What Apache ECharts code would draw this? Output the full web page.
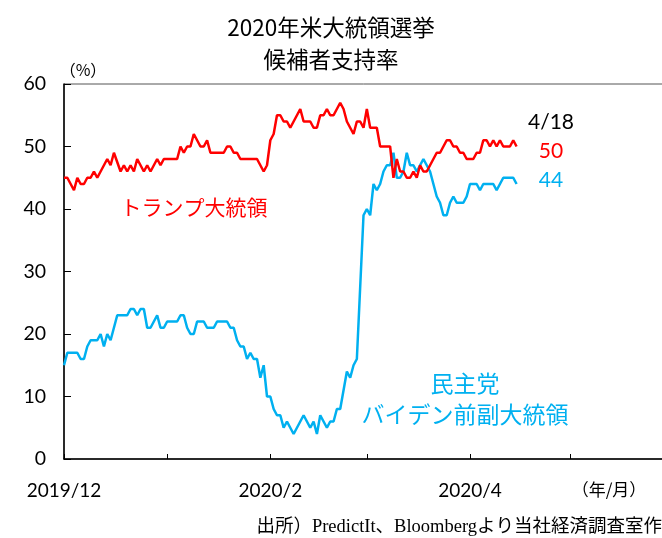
<!DOCTYPE html>
<html>
<head>
<meta charset="utf-8">
<script src="https://cdn.jsdelivr.net/npm/echarts@6/dist/echarts.min.js"></script>
<style>
  html, body { margin: 0; padding: 0; background: #fff; }
  #chart { width: 662px; height: 538px; }
</style>
</head>
<body>
<div id="chart"></div>
<script>
// 日付は 2019/12/1 からの経過日数
const START = [2019, 11, 1];
const trumpDay = [0, 1, 3, 4, 5, 6, 7, 8, 9, 10, 13, 14, 15, 17, 18, 19, 20, 21, 22, 24, 25, 26, 28, 29, 30,
  34, 35, 36, 37, 38, 39, 41, 42, 43, 44, 48, 49, 50, 51, 52, 53, 58, 60, 61, 62, 63, 64, 65, 66, 67, 68,
  71, 72, 74, 75, 76, 77, 78, 79, 80, 81, 83, 84, 85, 86, 87, 88, 89, 90, 91, 92, 94, 95, 98, 99, 100,
  101, 102, 103, 104, 105, 106, 107, 108, 109, 110, 111, 112, 113, 115, 116, 117, 118, 119, 120, 121,
  123, 124, 125, 126, 127, 128, 129, 130, 131, 132, 133, 134, 135, 136];
const trumpVal = [45, 45, 43, 45, 44, 44, 45, 45, 46, 45, 48, 47, 49, 46, 47, 46, 47, 46, 48, 46, 47, 46, 48, 47, 48,
  48, 50, 49, 50, 50, 52, 50, 50, 51, 49, 49, 50, 50, 49, 49, 48, 48, 46, 47, 51, 52, 55, 55, 54, 54, 53,
  56, 54, 54, 53, 53, 55, 55, 56, 55, 55, 57, 56, 54, 53, 52, 54, 54, 53, 56, 53, 53, 50, 50, 45, 48,
  46, 46, 45, 45, 46, 45, 47, 46, 46, 47, 48, 49, 49, 51, 51, 50, 50, 49, 49, 48,
  48, 49, 49, 51, 51, 50, 51, 50, 51, 50, 50, 50, 51, 50];

const bidenDay = [0, 1, 4, 5, 6, 7, 8, 10, 11, 12, 13, 14, 16, 19, 20, 21, 22, 23, 24, 25, 26, 28, 29, 30, 31,
  34, 35, 36, 37, 38, 39, 40, 42, 43, 45, 46, 49, 50, 51, 52, 53, 54, 55, 56, 57, 58, 59, 60, 61, 62,
  63, 64, 65, 66, 67, 69, 72, 74, 75, 76, 77, 79, 80, 81, 82, 83, 85, 86, 87, 88, 90, 91, 92, 93, 94,
  95, 96, 97, 98, 99, 100, 101, 102, 103, 104, 105, 106, 107, 108, 109, 110, 112, 113, 114, 115, 116,
  117, 118, 120, 121, 122, 124, 125, 126, 129, 130, 132, 135, 136];
const bidenVal = [15, 17, 17, 16, 16, 18, 19, 19, 20, 18, 20, 19, 23, 23, 24, 24, 23, 24, 24, 21, 21, 23, 21, 21, 22,
  22, 23, 23, 21, 20, 20, 22, 22, 21, 21, 22, 22, 21, 21, 19, 18, 18, 16, 17, 16, 16, 13, 15, 10, 10,
  8, 7, 7, 5, 6, 4, 7, 5, 6, 4, 7, 5, 6, 6, 8, 8, 14, 13, 15, 16, 39, 40, 39, 44, 43,
  44, 46, 47, 47, 49, 45, 45, 46, 49, 47, 47, 46, 47, 48, 47, 46, 42, 41, 39, 39, 41,
  42, 41, 41, 42, 44, 44, 43, 44, 44, 43, 45, 45, 44];

// 目盛り（月初、経過日数）
const monthTicks = [0, 31, 62, 91, 122, 152, 183];
const monthLabels = [0, 62, 122];

const dayLabel = d => {
  const t = new Date(START[0], START[1], START[2] + d);
  return t.getFullYear() + '/' + (t.getMonth() + 1);
};
const toPairs = (days, vals) => days.map((d, i) => [d, vals[i]]);

const RED = '#FF0000';
const BLUE = '#00B0F0';
const JP = '"Noto Sans CJK JP", sans-serif';
const NUM = 'Lato, "Noto Sans CJK JP", sans-serif';

const myChart = echarts.init(document.getElementById('chart'));

const option = {
  animation: false,
  title: {
    text: '2020年米大統領選挙\n候補者支持率',
    left: 'center',
    top: 6,
    textStyle: {
      fontSize: 22.5,
      fontWeight: 'normal',
      color: '#000',
      fontFamily: JP,
      lineHeight: 32
    }
  },
  grid: {
    left: 64,
    top: 84,
    width: 609,
    height: 375,
    outerBoundsMode: 'none',
    containLabel: false,
    show: true,
    borderColor: '#555',
    borderWidth: 1
  },
  xAxis: {
    type: 'value',
    min: 0,
    max: 183,
    axisLine: { lineStyle: { color: '#000', width: 1.5 } },
    axisTick: {
      inside: true,
      length: 5,
      lineStyle: { color: '#000' },
      customValues: monthTicks
    },
    axisLabel: {
      color: '#000',
      fontSize: 19,
      fontFamily: NUM,
      margin: 22,
      customValues: monthLabels,
      formatter: v => dayLabel(v)
    },
    splitLine: { show: false }
  },
  yAxis: {
    type: 'value',
    min: 0,
    max: 60,
    interval: 10,
    axisLine: { show: true, lineStyle: { color: '#000', width: 1.5 } },
    axisTick: { show: true, inside: true, length: 7, lineStyle: { color: '#000' } },
    axisLabel: { color: '#000', fontSize: 19.5, fontFamily: NUM, margin: 18 },
    splitLine: { show: false }
  },
  series: [
    {
      name: 'トランプ大統領',
      type: 'line',
      data: toPairs(trumpDay, trumpVal),
      symbol: 'none',
      lineStyle: { color: RED, width: 2.5 },
      z: 3
    },
    {
      name: '民主党 バイデン前副大統領',
      type: 'line',
      data: toPairs(bidenDay, bidenVal),
      symbol: 'none',
      lineStyle: { color: BLUE, width: 2.5 },
      z: 2
    }
  ],
  graphic: [
    { type: 'text', x: 83, y: 70, style: { text: '（%）', fill: '#000', font: '16px ' + JP, align: 'center', verticalAlign: 'middle' } },
    { type: 'text', x: 551, y: 122, style: { text: '4/18', fill: '#000', font: '21px ' + NUM, align: 'center', verticalAlign: 'middle' } },
    { type: 'text', x: 551, y: 151, style: { text: '50', fill: RED, font: '21px ' + NUM, align: 'center', verticalAlign: 'middle' } },
    { type: 'text', x: 551, y: 180, style: { text: '44', fill: BLUE, font: '21px ' + NUM, align: 'center', verticalAlign: 'middle' } },
    { type: 'text', x: 194, y: 207, style: { text: 'トランプ大統領', fill: RED, font: '21px ' + JP, align: 'center', verticalAlign: 'middle' } },
    { type: 'text', x: 465, y: 383, style: { text: '民主党', fill: BLUE, font: '23px ' + JP, align: 'center', verticalAlign: 'middle' } },
    { type: 'text', x: 465, y: 414, style: { text: 'バイデン前副大統領', fill: BLUE, font: '23px ' + JP, align: 'center', verticalAlign: 'middle' } },
    { type: 'text', x: 609, y: 490, style: { text: '（年/月）', fill: '#000', font: '17px ' + JP, align: 'center', verticalAlign: 'middle' } },
    { type: 'text', x: 662, y: 527, style: { text: '出所）PredictIt、Bloombergより当社経済調査室作', fill: '#000', font: '18.5px "Liberation Serif", "Noto Sans CJK JP", serif', align: 'right', verticalAlign: 'middle' } }
  ]
};

myChart.setOption(option);

window.addEventListener('resize', function () {
  myChart.resize();
});
</script>
</body>
</html>
